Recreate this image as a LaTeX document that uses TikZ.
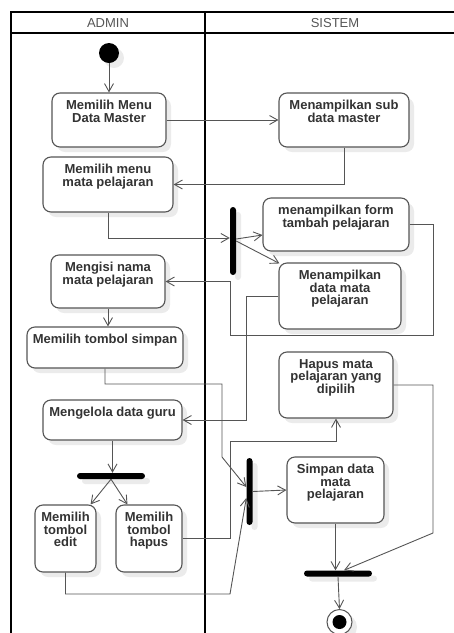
\documentclass[tikz,border=0pt]{standalone}
\usepackage{fontspec}
\setmainfont{Liberation Sans}
\usetikzlibrary{arrows.meta,calc}
\definecolor{lnc}{HTML}{555555}
\definecolor{txc}{HTML}{333333}
\definecolor{shc}{HTML}{EBEBEB}
\tikzset{
 actbox/.style={rectangle, draw=lnc, line width=1.1pt, fill=white, rounded corners=8pt, inner sep=0pt},
 acttext/.style={anchor=north, inner sep=0pt, align=center, font=\fontsize{13}{12.5}\selectfont\bfseries, text=txc},
 conn/.style={draw=lnc, line width=0.9pt},
 arr/.style={conn, -{Straight Barb[length=8pt,width=9pt]}},
 barst/.style={rectangle, fill=black, rounded corners=3pt, inner sep=0pt},
 lane/.style={line width=1.4pt, draw=black},
 hdr/.style={font=\fontsize{13}{13}\selectfont, text=lnc},
 shadowst/.style={fill=shc, rounded corners=8pt},
 barshadow/.style={fill=shc, rounded corners=3pt}
}
\newcommand{\actnode}[6]{%
 \fill[shadowst] (#2+5,#3+5) rectangle (#4+5,#5+5);
 \node[actbox, minimum width={#4-#2}, minimum height={#5-#3}] (#1) at ({(#2+#4)/2},{(#3+#5)/2}) {};
 \node[acttext] (#1t) at ($(#1.north)+(0,7.5)$) {#6};
}
\newcommand{\barnode}[5]{%
 \fill[barshadow] (#2-#4/2+5,#3-#5/2+5) rectangle (#2+#4/2+5,#3+#5/2+5);
 \node[barst, minimum width=#4, minimum height=#5] (#1) at (#2,#3) {};
}
\begin{document}
\begin{tikzpicture}[x=1pt,y=-1pt]
\useasboundingbox (0,0) rectangle (454,633);
% swimlanes
\draw[lane] (11,633) -- (11,12) -- (454,12);
\draw[lane] (11,33) -- (454,33);
\draw[lane] (205,12) -- (205,633);
\node[hdr] (hA) at (108,23) {ADMIN};
\node[hdr] (hS) at (335,23) {SISTEM};
% start
\fill[shc] (114,58) circle (10);
\node[circle, fill=black, minimum size=20, inner sep=0pt] (start) at (109,53) {};
% activities
\actnode{b1}{52}{93}{166}{147}{Memilih Menu\\Data Master}
\actnode{b2}{279}{93}{409}{147}{Menampilkan sub\\data master}
\actnode{b3}{43}{157}{173}{212}{Memilih menu\\mata pelajaran}
\actnode{b4}{263}{198}{409}{251}{menampilkan form\\tambah pelajaran}
\actnode{b5}{279}{263}{401}{329}{Menampilkan\\data mata\\pelajaran}
\actnode{b6}{51}{255}{165}{308}{Mengisi nama\\mata pelajaran}
\actnode{b7}{27}{327}{183}{368}{Memilih tombol simpan}
\actnode{b8}{43}{400}{182}{440}{Mengelola data guru}
\actnode{b9}{279}{352}{393}{418}{Hapus mata\\pelajaran yang\\dipilih}
\actnode{b10}{287}{457}{384}{523}{Simpan data\\mata\\pelajaran}
\actnode{b11}{35}{505}{96}{572}{Memilih\\tombol\\edit}
\actnode{b12}{116}{505}{182}{572}{Memilih\\tombol\\hapus}
% bars
\barnode{f1}{233}{241}{6}{68}
\barnode{f2}{249.5}{491.5}{6}{67}
\barnode{f3}{111}{476}{68}{6}
\barnode{f4}{338}{573.5}{68}{6}
% end
\fill[shc] (344.5,627) circle (12.5);
\node[circle, draw=lnc, fill=white, line width=1pt, minimum size=25, inner sep=0pt] (end) at (339.5,622) {};
\node[circle, fill=black, minimum size=14, inner sep=0pt] (endin) at (end.center) {};
% connectors
\draw[arr] (start.south) -- (b1.north);
\draw[arr] (b1.east) -- (b2.west);
\draw[arr] (b2.south) |- (b3.east);
\draw[arr] (b3.south) |- ($(f1.west)+(0,-3)$);
\draw[arr] ($(f1.east)+(0,-2)$) -- ($(b4.west)+(0,10.5)$);
\draw[arr] ($(f1.east)+(0,0)$) -- ($(b5.north west)+(1,1)$);
\draw[arr] (b4.east) -- (433,224.5) -- (433,335) -- (230,335) -- (230,281.5) -- (b6.east);
\draw[arr] (b5.west) -- (246,296) -- (246,420) -- (b8.east);
\draw[arr] (b6.south) -- (b6.south |- b7.north);
\draw[arr] (b7.south) -- (105,384) -- (222,384) -- (222,457) -- ($(f2.west)+(0,-4.5)$);
\draw[arr] (b8.south) -- (b8.south |- f3.north);
\draw[arr] (f3.south) -- ($(b11.north east)+(-6,0)$);
\draw[arr] (f3.south) -- ($(b12.north west)+(12,0)$);
\draw[arr] (b12.east) -- (230,538.5) -- (230,441) -- (336,441) -- (b9.south);
\draw[arr] (b11.south) -- (65.5,594) -- (230,594) -- ($(f2.west)+(0,6.5)$);
\draw[arr] (f2.east) -- (b10.west);
\draw[arr] (b10.south) -- (b10.south |- f4.north);
\draw[arr] (b9.east) -- (433,385) -- (433,533) -- ($(f4.north)+(6,0)$);
\draw[arr] (f4.south) -- (end.north);
\end{tikzpicture}
\end{document}
